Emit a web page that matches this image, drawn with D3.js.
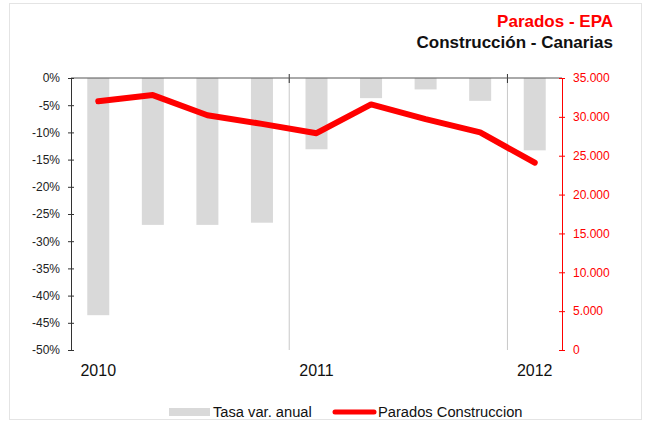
<!DOCTYPE html>
<html>
<head>
<meta charset="utf-8">
<script src="https://cdn.jsdelivr.net/npm/d3@7"></script>
<style>
  html, body { margin: 0; padding: 0; background: #fff; }
  svg { display: block; font-family: 'Liberation Sans', Arial, sans-serif; }
</style>
</head>
<body>
<svg id="chart" width="648" height="423"></svg>
<script>
(function () {
  'use strict';

  // ---- Data ----
  const quarters = ['2010T1', '2010T2', '2010T3', '2010T4', '2011T1', '2011T2', '2011T3', '2011T4', '2012T1'];
  const yearLabels = ['2010', '2011', '2012'];
  const tasaVar = [-43.6, -27.0, -27.0, -26.6, -13.1, -3.7, -2.1, -4.2, -13.3];
  const parados = [32000, 32800, 30200, 29100, 27900, 31600, 29700, 28000, 24100];
  const leftTicks = [0, -5, -10, -15, -20, -25, -30, -35, -40, -45, -50];
  const rightTicks = [0, 5000, 10000, 15000, 20000, 25000, 30000, 35000];

  const svg = d3.select('#chart');

  // light frame
  svg.append('rect')
    .attr('x', 9.5).attr('y', 3.5)
    .attr('width', 632).attr('height', 416)
    .attr('fill', 'none')
    .attr('stroke', '#e4e4e4');

  const margin = { left: 71, right: 562, top: 78, bottom: 350 };

  // quarter centres
  const xStep = d3.scalePoint()
    .domain(quarters)
    .range([margin.left, margin.right])
    .padding(0.5);

  const yLeft = d3.scaleLinear().domain([-50, 0]).range([margin.bottom, margin.top]);
  const yRight = d3.scaleLinear().domain([0, 35000]).range([margin.bottom, margin.top]);

  // Bars
  svg.append('g')
    .selectAll('rect')
    .data(tasaVar)
    .enter()
    .append('rect')
    .attr('x', function (d, i) { return xStep(quarters[i]) - 11; })
    .attr('y', yLeft(0))
    .attr('width', 22)
    .attr('height', function (d) { return yLeft(d) - yLeft(0); })
    .attr('fill', '#d9d9d9');

  // Year separators
  const step = xStep.step();
  [4, 8].forEach(function (k) {
    const xs = margin.left + k * step;
    svg.append('line')
      .attr('x1', xs).attr('x2', xs)
      .attr('y1', margin.top).attr('y2', margin.bottom)
      .attr('stroke', '#c8c8c8').attr('stroke-width', 1);
    svg.append('line')
      .attr('x1', xs).attr('x2', xs)
      .attr('y1', margin.top - 4).attr('y2', margin.top + 5)
      .attr('stroke', '#333').attr('stroke-width', 1);
  });

  // Top zero line
  svg.append('line')
    .attr('x1', margin.left).attr('x2', margin.right)
    .attr('y1', yLeft(0)).attr('y2', yLeft(0))
    .attr('stroke', '#555').attr('stroke-width', 1);

  // Left axis
  const leftAxis = svg.append('g')
    .attr('transform', 'translate(' + margin.left + ',0)')
    .call(d3.axisLeft(yLeft)
      .tickValues(leftTicks)
      .tickSize(3)
      .tickPadding(8)
      .tickFormat(function (d) { return d + '%'; }));
  leftAxis.select('.domain').attr('stroke', '#333');
  leftAxis.selectAll('.tick line').attr('stroke', '#333').attr('x2', 3).attr('x1', -3);
  leftAxis.selectAll('.tick text')
    .attr('font-size', 12)
    .attr('font-family', "'Liberation Sans', Arial, sans-serif")
    .attr('fill', '#222');

  // Right axis
  const fmt = function (d) {
    return d === 0 ? '0' : d3.format(',')(d).replace(/,/g, '.');
  };
  const rightAxis = svg.append('g')
    .attr('transform', 'translate(' + margin.right + ',0)')
    .call(d3.axisRight(yRight)
      .tickValues(rightTicks)
      .tickSize(3)
      .tickPadding(8)
      .tickFormat(fmt));
  rightAxis.select('.domain').attr('stroke', '#ff0000');
  rightAxis.selectAll('.tick line').attr('stroke', '#ff0000').attr('x1', -3).attr('x2', 3);
  rightAxis.selectAll('.tick text')
    .attr('font-size', 12)
    .attr('font-family', "'Liberation Sans', Arial, sans-serif")
    .attr('fill', '#ff0000');

  // Year labels
  svg.append('g')
    .selectAll('text')
    .data(yearLabels)
    .enter()
    .append('text')
    .attr('x', function (d, i) { return xStep(quarters[i * 4]); })
    .attr('y', 376)
    .attr('text-anchor', 'middle')
    .attr('font-size', 16)
    .attr('fill', '#111')
    .text(function (d) { return d; });

  // Line
  const line = d3.line()
    .x(function (d, i) { return xStep(quarters[i]); })
    .y(function (d) { return yRight(d); });

  svg.append('path')
    .datum(parados)
    .attr('d', line)
    .attr('fill', 'none')
    .attr('stroke', '#ff0000')
    .attr('stroke-width', 6)
    .attr('stroke-linejoin', 'round')
    .attr('stroke-linecap', 'round');

  // Titles
  svg.append('text')
    .attr('x', 613).attr('y', 27)
    .attr('text-anchor', 'end')
    .attr('font-size', 17).attr('font-weight', 'bold')
    .attr('fill', '#ff0000')
    .text('Parados - EPA');
  svg.append('text')
    .attr('x', 613).attr('y', 48)
    .attr('text-anchor', 'end')
    .attr('font-size', 17).attr('font-weight', 'bold')
    .attr('fill', '#111')
    .text('Construcción - Canarias');

  // Legend
  const legend = svg.append('g');
  legend.append('rect')
    .attr('x', 169).attr('y', 408)
    .attr('width', 41).attr('height', 8)
    .attr('fill', '#d9d9d9');
  legend.append('text')
    .attr('x', 213).attr('y', 417)
    .attr('font-size', 14.7).attr('fill', '#111')
    .text('Tasa var. anual');
  legend.append('line')
    .attr('x1', 335).attr('x2', 374)
    .attr('y1', 412).attr('y2', 412)
    .attr('stroke', '#ff0000').attr('stroke-width', 5)
    .attr('stroke-linecap', 'round');
  legend.append('text')
    .attr('x', 378).attr('y', 417)
    .attr('font-size', 14.7).attr('fill', '#111')
    .text('Parados Construccion');
})();
</script>
</body>
</html>
